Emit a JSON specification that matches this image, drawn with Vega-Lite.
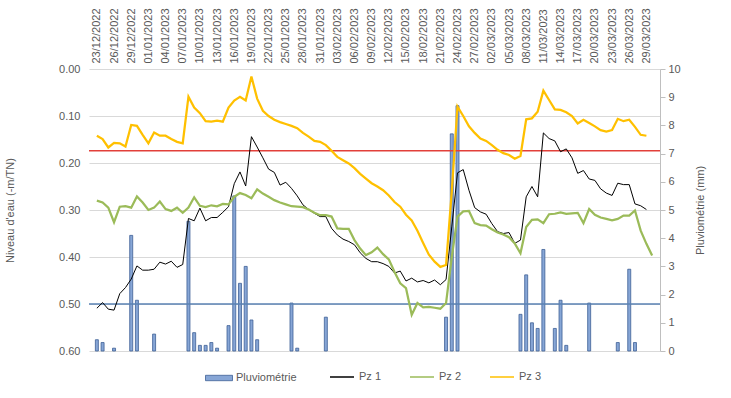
{
  "$schema": "https://vega.github.io/schema/vega-lite/v6.json",
  "width": 571,
  "height": 282,
  "autosize": {"type": "none"},
  "padding": {"left": 89, "top": 69, "right": 71, "bottom": 47},
  "background": "white",
  "config": {
    "view": {"stroke": null},
    "font": "Liberation Sans",
    "axis": {"labelFont": "Liberation Sans", "titleFont": "Liberation Sans", "labelColor": "#595959", "titleColor": "#595959", "labelFontSize": 11, "titleFontSize": 11, "titleFontWeight": "normal"},
    "axisX": {"orient": "top", "format": "%d/%m/%Y", "formatType": "utc", "labelAngle": 270, "labelAlign": "left", "labelBaseline": "middle", "ticks": false, "domain": false, "grid": false, "labelPadding": 6, "labelFlush": false, "labelOverlap": false, "title": null},
    "legend": {"labelFont": "Liberation Sans", "labelColor": "#595959", "labelFontSize": 11}
  },
  "datasets": {
    "d": [
      {"date": "2022-12-23", "pz1": 0.509, "pz2": 0.280, "pz3": 0.142, "pluie": 0.4},
      {"date": "2022-12-24", "pz1": 0.497, "pz2": 0.284, "pz3": 0.149, "pluie": 0.3},
      {"date": "2022-12-25", "pz1": 0.511, "pz2": 0.295, "pz3": 0.167},
      {"date": "2022-12-26", "pz1": 0.513, "pz2": 0.326, "pz3": 0.157, "pluie": 0.1},
      {"date": "2022-12-27", "pz1": 0.478, "pz2": 0.293, "pz3": 0.158},
      {"date": "2022-12-28", "pz1": 0.465, "pz2": 0.292, "pz3": 0.165},
      {"date": "2022-12-29", "pz1": 0.447, "pz2": 0.295, "pz3": 0.119, "pluie": 4.1},
      {"date": "2022-12-30", "pz1": 0.419, "pz2": 0.271, "pz3": 0.121, "pluie": 1.8},
      {"date": "2022-12-31", "pz1": 0.428, "pz2": 0.284, "pz3": 0.140},
      {"date": "2023-01-01", "pz1": 0.428, "pz2": 0.300, "pz3": 0.158},
      {"date": "2023-01-02", "pz1": 0.426, "pz2": 0.295, "pz3": 0.135, "pluie": 0.6},
      {"date": "2023-01-03", "pz1": 0.411, "pz2": 0.282, "pz3": 0.142},
      {"date": "2023-01-04", "pz1": 0.415, "pz2": 0.298, "pz3": 0.142},
      {"date": "2023-01-05", "pz1": 0.409, "pz2": 0.302, "pz3": 0.149},
      {"date": "2023-01-06", "pz1": 0.422, "pz2": 0.295, "pz3": 0.155},
      {"date": "2023-01-07", "pz1": 0.416, "pz2": 0.306, "pz3": 0.158},
      {"date": "2023-01-08", "pz1": 0.318, "pz2": 0.295, "pz3": 0.059, "pluie": 4.6},
      {"date": "2023-01-09", "pz1": 0.323, "pz2": 0.273, "pz3": 0.082, "pluie": 0.65},
      {"date": "2023-01-10", "pz1": 0.296, "pz2": 0.291, "pz3": 0.094, "pluie": 0.2},
      {"date": "2023-01-11", "pz1": 0.323, "pz2": 0.294, "pz3": 0.111, "pluie": 0.2},
      {"date": "2023-01-12", "pz1": 0.316, "pz2": 0.290, "pz3": 0.112, "pluie": 0.3},
      {"date": "2023-01-13", "pz1": 0.316, "pz2": 0.292, "pz3": 0.110, "pluie": 0.1},
      {"date": "2023-01-14", "pz1": 0.305, "pz2": 0.287, "pz3": 0.112},
      {"date": "2023-01-15", "pz1": 0.293, "pz2": 0.288, "pz3": 0.082, "pluie": 0.9},
      {"date": "2023-01-16", "pz1": 0.244, "pz2": 0.272, "pz3": 0.067, "pluie": 5.5},
      {"date": "2023-01-17", "pz1": 0.219, "pz2": 0.264, "pz3": 0.059, "pluie": 2.4},
      {"date": "2023-01-18", "pz1": 0.249, "pz2": 0.268, "pz3": 0.067, "pluie": 3.0},
      {"date": "2023-01-19", "pz1": 0.144, "pz2": 0.275, "pz3": 0.016, "pluie": 1.1},
      {"date": "2023-01-20", "pz1": 0.166, "pz2": 0.256, "pz3": 0.063, "pluie": 0.4},
      {"date": "2023-01-21", "pz1": 0.189, "pz2": 0.265, "pz3": 0.089},
      {"date": "2023-01-22", "pz1": 0.213, "pz2": 0.272, "pz3": 0.100},
      {"date": "2023-01-23", "pz1": 0.220, "pz2": 0.279, "pz3": 0.108},
      {"date": "2023-01-24", "pz1": 0.247, "pz2": 0.284, "pz3": 0.113},
      {"date": "2023-01-25", "pz1": 0.241, "pz2": 0.288, "pz3": 0.117},
      {"date": "2023-01-26", "pz1": 0.254, "pz2": 0.292, "pz3": 0.121, "pluie": 1.7},
      {"date": "2023-01-27", "pz1": 0.270, "pz2": 0.293, "pz3": 0.126, "pluie": 0.1},
      {"date": "2023-01-28", "pz1": 0.289, "pz2": 0.294, "pz3": 0.136},
      {"date": "2023-01-29", "pz1": 0.299, "pz2": 0.299, "pz3": 0.144},
      {"date": "2023-01-30", "pz1": 0.307, "pz2": 0.306, "pz3": 0.153},
      {"date": "2023-01-31", "pz1": 0.314, "pz2": 0.311, "pz3": 0.155},
      {"date": "2023-02-01", "pz1": 0.314, "pz2": 0.311, "pz3": 0.162, "pluie": 1.2},
      {"date": "2023-02-02", "pz1": 0.339, "pz2": 0.314, "pz3": 0.174},
      {"date": "2023-02-03", "pz1": 0.353, "pz2": 0.339, "pz3": 0.187},
      {"date": "2023-02-04", "pz1": 0.362, "pz2": 0.340, "pz3": 0.194},
      {"date": "2023-02-05", "pz1": 0.367, "pz2": 0.340, "pz3": 0.201},
      {"date": "2023-02-06", "pz1": 0.374, "pz2": 0.364, "pz3": 0.211},
      {"date": "2023-02-07", "pz1": 0.391, "pz2": 0.382, "pz3": 0.223},
      {"date": "2023-02-08", "pz1": 0.403, "pz2": 0.396, "pz3": 0.233},
      {"date": "2023-02-09", "pz1": 0.410, "pz2": 0.390, "pz3": 0.243},
      {"date": "2023-02-10", "pz1": 0.410, "pz2": 0.380, "pz3": 0.250},
      {"date": "2023-02-11", "pz1": 0.414, "pz2": 0.394, "pz3": 0.258},
      {"date": "2023-02-12", "pz1": 0.420, "pz2": 0.405, "pz3": 0.269},
      {"date": "2023-02-13", "pz1": 0.434, "pz2": 0.432, "pz3": 0.283},
      {"date": "2023-02-14", "pz1": 0.430, "pz2": 0.456, "pz3": 0.293},
      {"date": "2023-02-15", "pz1": 0.451, "pz2": 0.466, "pz3": 0.310},
      {"date": "2023-02-16", "pz1": 0.445, "pz2": 0.523, "pz3": 0.322},
      {"date": "2023-02-17", "pz1": 0.453, "pz2": 0.498, "pz3": 0.344},
      {"date": "2023-02-18", "pz1": 0.450, "pz2": 0.507, "pz3": 0.370},
      {"date": "2023-02-19", "pz1": 0.455, "pz2": 0.506, "pz3": 0.395},
      {"date": "2023-02-20", "pz1": 0.449, "pz2": 0.508, "pz3": 0.410},
      {"date": "2023-02-21", "pz1": 0.459, "pz2": 0.510, "pz3": 0.421},
      {"date": "2023-02-22", "pz1": 0.448, "pz2": 0.498, "pz3": 0.417, "pluie": 1.2},
      {"date": "2023-02-23", "pz1": 0.336, "pz2": 0.400, "pz3": 0.260, "pluie": 7.7},
      {"date": "2023-02-24", "pz1": 0.221, "pz2": 0.314, "pz3": 0.080, "pluie": 8.7},
      {"date": "2023-02-25", "pz1": 0.214, "pz2": 0.303, "pz3": 0.100},
      {"date": "2023-02-26", "pz1": 0.258, "pz2": 0.302, "pz3": 0.122},
      {"date": "2023-02-27", "pz1": 0.295, "pz2": 0.328, "pz3": 0.136},
      {"date": "2023-02-28", "pz1": 0.304, "pz2": 0.332, "pz3": 0.148},
      {"date": "2023-03-01", "pz1": 0.309, "pz2": 0.333, "pz3": 0.153},
      {"date": "2023-03-02", "pz1": 0.329, "pz2": 0.341, "pz3": 0.162},
      {"date": "2023-03-03", "pz1": 0.346, "pz2": 0.348, "pz3": 0.172},
      {"date": "2023-03-04", "pz1": 0.350, "pz2": 0.352, "pz3": 0.179},
      {"date": "2023-03-05", "pz1": 0.348, "pz2": 0.358, "pz3": 0.183},
      {"date": "2023-03-06", "pz1": 0.371, "pz2": 0.371, "pz3": 0.191},
      {"date": "2023-03-07", "pz1": 0.364, "pz2": 0.392, "pz3": 0.185, "pluie": 1.3},
      {"date": "2023-03-08", "pz1": 0.272, "pz2": 0.336, "pz3": 0.107, "pluie": 2.7},
      {"date": "2023-03-09", "pz1": 0.250, "pz2": 0.321, "pz3": 0.105, "pluie": 1.0},
      {"date": "2023-03-10", "pz1": 0.272, "pz2": 0.320, "pz3": 0.091, "pluie": 0.8},
      {"date": "2023-03-11", "pz1": 0.136, "pz2": 0.328, "pz3": 0.046, "pluie": 3.6},
      {"date": "2023-03-12", "pz1": 0.148, "pz2": 0.309, "pz3": 0.066},
      {"date": "2023-03-13", "pz1": 0.153, "pz2": 0.308, "pz3": 0.086, "pluie": 0.8},
      {"date": "2023-03-14", "pz1": 0.176, "pz2": 0.305, "pz3": 0.087, "pluie": 1.8},
      {"date": "2023-03-15", "pz1": 0.170, "pz2": 0.308, "pz3": 0.092, "pluie": 0.2},
      {"date": "2023-03-16", "pz1": 0.189, "pz2": 0.307, "pz3": 0.100},
      {"date": "2023-03-17", "pz1": 0.222, "pz2": 0.306, "pz3": 0.116},
      {"date": "2023-03-18", "pz1": 0.216, "pz2": 0.328, "pz3": 0.108},
      {"date": "2023-03-19", "pz1": 0.234, "pz2": 0.298, "pz3": 0.115, "pluie": 1.7},
      {"date": "2023-03-20", "pz1": 0.237, "pz2": 0.310, "pz3": 0.122},
      {"date": "2023-03-21", "pz1": 0.255, "pz2": 0.316, "pz3": 0.130},
      {"date": "2023-03-22", "pz1": 0.264, "pz2": 0.319, "pz3": 0.133},
      {"date": "2023-03-23", "pz1": 0.269, "pz2": 0.322, "pz3": 0.130},
      {"date": "2023-03-24", "pz1": 0.243, "pz2": 0.319, "pz3": 0.106, "pluie": 0.3},
      {"date": "2023-03-25", "pz1": 0.246, "pz2": 0.312, "pz3": 0.111},
      {"date": "2023-03-26", "pz1": 0.246, "pz2": 0.312, "pz3": 0.108, "pluie": 2.9},
      {"date": "2023-03-27", "pz1": 0.287, "pz2": 0.301, "pz3": 0.123, "pluie": 0.3},
      {"date": "2023-03-28", "pz1": 0.291, "pz2": 0.344, "pz3": 0.140},
      {"date": "2023-03-29", "pz1": 0.299, "pz2": 0.372, "pz3": 0.142},
      {"date": "2023-03-30", "pz2": 0.397}
    ]
  },
  "layer": [
    {
      "data": {"name": "d"},
      "mark": {"type": "bar", "size": 3, "stroke": "#3d5f95", "strokeWidth": 0.8},
      "encoding": {
        "x": {"field": "date", "type": "temporal",
          "scale": {"type": "utc", "domain": [{"year": 2022, "month": 12, "date": 22, "hours": 12, "utc": true}, {"year": 2023, "month": 3, "date": 30, "hours": 12, "utc": true}]},
          "axis": {"values": [1671753600000, 1672012800000, 1672272000000, 1672531200000, 1672790400000, 1673049600000, 1673308800000, 1673568000000, 1673827200000, 1674086400000, 1674345600000, 1674604800000, 1674864000000, 1675123200000, 1675382400000, 1675641600000, 1675900800000, 1676160000000, 1676419200000, 1676678400000, 1676937600000, 1677196800000, 1677456000000, 1677715200000, 1677974400000, 1678233600000, 1678492800000, 1678752000000, 1679011200000, 1679270400000, 1679529600000, 1679788800000, 1680048000000]}},
        "y": {"field": "pluie", "type": "quantitative", "scale": {"domain": [0, 10]},
          "axis": {"orient": "right", "values": [0, 1, 2, 3, 4, 5, 6, 7, 8, 9, 10], "grid": false, "domain": true, "domainColor": "#bfbfbf", "ticks": true, "tickColor": "#bfbfbf", "tickSize": 5, "labelPadding": 3, "title": "Pluviométrie (mm)", "titleAngle": 270, "titlePadding": 25}},
        "fill": {"datum": "Pluviométrie", "scale": {"domain": ["Pluviométrie"], "range": ["#87a6d6"]},
          "legend": {"title": null, "orient": "none", "legendX": 116, "legendY": 295, "direction": "horizontal", "symbolType": "M-1,-0.2H1V0.2H-1Z", "symbolSize": 729, "symbolStrokeColor": "#3d5f95", "symbolStrokeWidth": 0.8, "labelOffset": 3}}
      }
    },
    {
      "layer": [
        {
          "data": {"values": [{}]},
          "mark": {"type": "rule", "color": "#e2403a", "strokeWidth": 1.5},
          "encoding": {"y": {"datum": 0.174, "type": "quantitative", "scale": {"domain": [0, 0.6], "reverse": true}}}
        },
        {
          "data": {"values": [{}]},
          "mark": {"type": "rule", "color": "#5a82b3", "strokeWidth": 1.5},
          "encoding": {"y": {"datum": 0.5, "type": "quantitative"}}
        },
        {
          "data": {"name": "d"},
          "mark": {"type": "line", "strokeWidth": 1},
          "encoding": {
            "x": {"field": "date", "type": "temporal", "axis": null},
            "y": {"field": "pz1", "type": "quantitative", "scale": {"domain": [0, 0.6], "reverse": true},
              "axis": {"orient": "left", "values": [0, 0.1, 0.2, 0.3, 0.4, 0.5, 0.6], "format": ".2f", "grid": true, "gridColor": "#d9d9d9", "domain": false, "ticks": false, "labelPadding": 9, "title": "Niveau d'eau (-m/TN)", "titlePadding": 43}},
            "stroke": {"datum": "Pz 1", "scale": {"domain": ["Pz 1", "Pz 2", "Pz 3"], "range": ["#000000", "#9bbb59", "#ffc000"]},
              "legend": {"title": null, "orient": "none", "legendX": 240, "legendY": 295, "direction": "horizontal", "columns": 3, "columnPadding": 25, "symbolType": "stroke", "symbolSize": 576, "symbolStrokeWidth": 1.5, "labelOffset": 4}}
          }
        },
        {
          "data": {"name": "d"},
          "mark": {"type": "line", "strokeWidth": 2.25},
          "encoding": {
            "x": {"field": "date", "type": "temporal", "axis": null},
            "y": {"field": "pz2", "type": "quantitative"},
            "stroke": {"datum": "Pz 2"}
          }
        },
        {
          "data": {"name": "d"},
          "mark": {"type": "line", "strokeWidth": 2.25},
          "encoding": {
            "x": {"field": "date", "type": "temporal", "axis": null},
            "y": {"field": "pz3", "type": "quantitative"},
            "stroke": {"datum": "Pz 3"}
          }
        }
      ]
    }
  ],
  "resolve": {"scale": {"y": "independent"}, "axis": {"x": "independent"}}
}
